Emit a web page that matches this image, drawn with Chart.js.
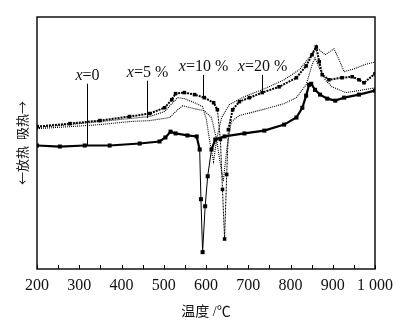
<!DOCTYPE html>
<html>
<head>
<meta charset="utf-8">
<script src="https://cdn.jsdelivr.net/npm/chart.js@4.4.0/dist/chart.umd.min.js"></script>
<style>
  html, body { margin: 0; padding: 0; background: #fff; }
</style>
</head>
<body>
<canvas id="dta" width="400" height="322"></canvas>
<script>
// DTA curves, temperature in degC, heat flow in relative units (up = endothermic)
// x = 0
const temp0 = [200,254,313,372,443,490,504,516,528,556,578,585,588,592,598,604,613,622,644,691,738,785,814,828,837,844,849,858,870,887,906,927,962,1000];
const heat0 = [49.0,48.6,49.0,49.0,49.8,50.6,52.2,54.5,53.8,53.0,52.6,47.4,27.7,6.7,24.9,36.8,47.4,51.4,52.6,53.8,54.9,57.3,60.1,64.0,68.8,73.1,73.5,71.1,69.2,67.6,66.8,68.0,69.2,70.8];
// x = 5 %
const temp5 = [200,278,349,419,467,502,519,533,549,573,592,601,610,618,625,637,655,691,738,785,821,844,858,868,882,903,915,927,950,974,1000];
const heat5 = [56.1,57.3,58.5,59.7,60.5,62.5,65.6,68.0,67.6,66.0,64.4,59.3,49.4,42.7,51.4,60.1,65.2,68.4,71.5,75.1,79.1,83.8,87.7,87.0,85.0,87.4,83.0,78.3,79.4,81.0,82.2];
// x = 10 %
const temp10 = [200,278,349,419,467,502,519,528,549,573,596,618,627,634,639,644,649,653,663,679,703,733,773,814,837,851,861,868,875,891,922,946,962,974,1000];
const heat10 = [56.5,57.7,58.9,60.5,61.7,64.0,67.2,69.6,70.0,69.2,68.0,66.0,63.2,51.4,31.6,11.9,37.5,55.3,63.2,66.4,68.0,70.0,72.3,75.9,80.6,85.0,88.1,82.2,77.1,75.1,75.9,76.3,75.1,73.9,77.5];
// x = 20 %
const temp20 = [200,278,349,419,467,514,533,545,573,596,613,625,634,641,649,660,679,733,785,814,837,851,858,868,882,898,931,962,1000];
const heat20 = [55.7,56.5,57.3,58.5,58.9,60.1,63.2,64.8,63.6,62.8,60.1,51.4,41.5,34.8,47.4,58.5,60.9,63.2,65.6,68.0,73.1,81.0,83.8,79.8,75.1,72.3,70.0,70.8,71.9];

// curve tags: text, temperature and heat where the leader meets the curve, heat of the text
const tagText = ['0', '5 %', '10 %', '20 %'];
const tagTemp = [318, 460, 592, 733];
const tagHeat = [49.0, 59.9, 68.4, 70.4];
const tagTextHeat = [76.7, 77.9, 80.2, 80.2];

const pts = (t, h) => t.map((v, i) => ({x: v, y: h[i]}));

// thin lines on the steep parts, like the plotted trace
const steep = (w) => ({
  borderWidth: c => Math.abs(c.p1.parsed.y - c.p0.parsed.y) > 8 ? 1 : w
});

const serif = "'Liberation Serif', 'Times New Roman', 'Noto Sans CJK SC', serif";

const frame = {
  id: 'frame',
  afterDraw(chart) {
    const {ctx, chartArea: a, scales: {x, y}} = chart;
    ctx.save();
    ctx.strokeStyle = '#000';
    ctx.lineWidth = 1.4;
    ctx.strokeRect(a.left, a.top, a.right - a.left, a.bottom - a.top);
    // inward ticks on the temperature axis
    ctx.lineWidth = 1;
    x.ticks.forEach(t => {
      const px = Math.round(x.getPixelForValue(t.value)) + 0.5;
      ctx.beginPath();
      ctx.moveTo(px, a.bottom);
      ctx.lineTo(px, a.bottom - 4);
      ctx.stroke();
    });
    // curve tags with leader lines
    ctx.fillStyle = '#111';
    ctx.textBaseline = 'middle';
    tagText.forEach((s, i) => {
      const px = Math.round(x.getPixelForValue(tagTemp[i])) + 0.5;
      const ty = y.getPixelForValue(tagTextHeat[i]);
      ctx.beginPath();
      ctx.moveTo(px, ty + 8);
      ctx.lineTo(px, y.getPixelForValue(tagHeat[i]));
      ctx.stroke();
      ctx.font = "italic 16px " + serif;
      const w1 = ctx.measureText('x').width;
      ctx.font = "16px " + serif;
      const rest = '=' + s;
      const w2 = ctx.measureText(rest).width;
      const x0 = px - (w1 + w2) / 2;
      ctx.font = "italic 16px " + serif;
      ctx.fillText('x', x0, ty);
      ctx.font = "16px " + serif;
      ctx.fillText(rest, x0 + w1, ty);
    });
    ctx.restore();
  }
};

new Chart(document.getElementById('dta'), {
  type: 'line',
  data: {
    datasets: [
      {label: 'x=0', data: pts(temp0, heat0), borderColor: '#000', backgroundColor: '#000',
       borderWidth: 2.2, pointStyle: 'rect', pointRadius: 1.3, segment: steep(2.2)},
      {label: 'x=5 %', data: pts(temp5, heat5), borderColor: '#000', borderWidth: 1.1,
       borderDash: [1, 1], pointRadius: 0},
      {label: 'x=10 %', data: pts(temp10, heat10), borderColor: '#000', backgroundColor: '#000',
       borderWidth: 2, borderDash: [2, 1], pointStyle: 'rect', pointRadius: 1.1, segment: steep(2)},
      {label: 'x=20 %', data: pts(temp20, heat20), borderColor: '#000', borderWidth: 1.1,
       borderDash: [1, 1], pointRadius: 0}
    ]
  },
  options: {
    responsive: false,
    animation: false,
    devicePixelRatio: 1,
    layout: {padding: {top: 17, right: 24, left: 0, bottom: 0}},
    plugins: {legend: {display: false}, tooltip: {enabled: false}},
    elements: {line: {tension: 0}},
    scales: {
      x: {
        type: 'linear', min: 200, max: 1000,
        grid: {display: false, drawTicks: false, tickLength: 0},
        border: {display: false},
        ticks: {
          stepSize: 50, autoSkip: false, maxRotation: 0, padding: 7, color: '#111',
          font: {family: serif, size: 16},
          callback: v => v % 100 === 0 ? (v >= 1000 ? '1 000' : String(v)) : ''
        },
        title: {display: true, text: '温度 /℃', color: '#111',
                font: {family: serif, size: 14}, padding: {top: 0, bottom: 1}},
        afterFit: s => { s.height = 53; }
      },
      y: {
        min: 0, max: 100,
        grid: {display: false, drawTicks: false},
        border: {display: false},
        ticks: {display: false},
        title: {display: true, text: '←放热  吸热→', color: '#111',
                font: {family: "'Noto Sans CJK SC', sans-serif", size: 13}, padding: {top: 14, bottom: 0}},
        afterFit: s => { s.width = 37; }
      }
    }
  },
  plugins: [frame]
});
</script>
</body>
</html>
